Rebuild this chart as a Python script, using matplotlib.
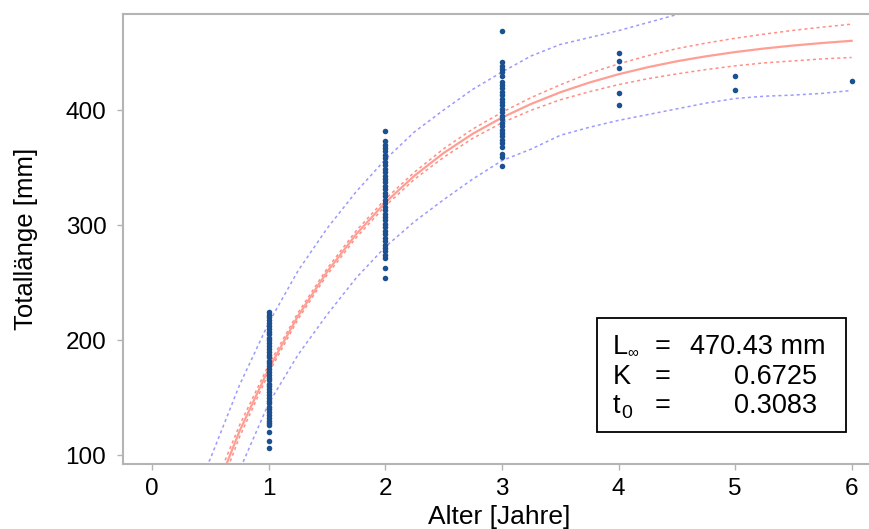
import matplotlib.pyplot as plt

# measured lengths per age class
age1 = [106, 112, 120, 126, 128, 130, 132, 135, 137, 140, 142, 145, 147, 150, 152, 155, 157, 160,
        162, 165, 167, 170, 172, 175, 177, 180, 182, 185, 187, 190, 192, 195, 197, 200, 202, 205,
        207, 210, 212, 215, 217, 220, 222, 224]
age2 = [254, 263, 271, 274, 277, 280, 283, 286, 289, 292, 295, 298, 301, 304, 307, 310, 313, 316,
        319, 322, 325, 328, 331, 334, 337, 340, 343, 346, 349, 352, 355, 358, 361, 364, 367, 370,
        373, 382]
age3 = [351, 359, 362, 368, 371, 374, 377, 380, 383, 386, 389, 392, 395, 398, 401, 404, 407, 410,
        413, 416, 419, 422, 424, 430, 433, 436, 438.5, 441.5, 469]
age4 = [404, 415, 436.5, 443, 450]
age5 = [417.4, 429.6]
age6 = [425]

# fitted curve and bands
t_grid = [0.4, 0.5, 0.75, 1.0, 1.25, 1.5, 1.75, 2.0, 2.25, 2.5, 2.75, 3.0, 3.25, 3.5, 3.75,
          4.0, 4.25, 4.5, 4.75, 5.0, 5.25, 5.5, 5.75, 6.0]
fit = [28.2, 56.9, 120.9, 175.0, 220.7, 259.3, 292.0, 319.6, 342.9, 362.6, 379.4, 393.4, 405.3,
       415.4, 423.9, 431.1, 437.2, 442.4, 446.7, 450.4, 453.5, 456.1, 458.3, 460.2]
ci_up = [36, 64.5, 126, 178.5, 223.5, 262, 295, 322.6, 346, 366.3, 383.5, 398, 410.8, 421.9, 431.9,
         440.1, 447.2, 453.4, 458.2, 462.4, 466, 469.3, 472.1, 474.7]
ci_lo = [20.4, 49.3, 115.8, 171.5, 217.9, 256.6, 289, 316.6, 339.8, 358.9, 375.4, 388.9, 399.8,
         408.9, 415.9, 422.1, 427.2, 431.4, 435.2, 438.4, 441, 442.7, 444.5, 445.7]
pi_up = [75, 97, 161, 215, 260, 297, 329, 357, 381, 400, 418, 433, 447, 457, 463,
         469, 476, 483, 488, 492, 495, 498, 500, 503]
pi_lo = [-5, 22, 87, 145, 187, 222, 254, 281, 303, 322, 340, 356, 366, 378, 385,
         391, 396, 401, 406, 410, 412, 413, 414.5, 417]

plt.rcParams['font.family'] = ['Liberation Sans', 'DejaVu Sans']

fig = plt.figure(figsize=(8.7, 5.29), dpi=100)
ax = fig.add_axes([123 / 870, 65 / 529, 752 / 870, 450 / 529])

ax.plot(t_grid, pi_up, color='#9a9aff', lw=1.1, ls=(0, (2, 2)))
ax.plot(t_grid, pi_lo, color='#9a9aff', lw=1.1, ls=(0, (2, 2)))
ax.plot(t_grid, ci_up, color='#ff8f86', lw=1.1, ls=(0, (2, 2)))
ax.plot(t_grid, ci_lo, color='#ff8f86', lw=1.1, ls=(0, (2, 2)))
ax.plot(t_grid, fit, color='#ff9f94', lw=1.6)

for age, vals in [(1, age1), (2, age2), (3, age3), (4, age4), (5, age5), (6, age6)]:
    ax.scatter([age] * len(vals), vals, s=16, color='#1b5190', zorder=3, linewidths=0)

ax.set_xlim(-0.25, 6.2)
ax.set_ylim(92.2, 483.5)
ax.set_xticks([0, 1, 2, 3, 4, 5, 6])
ax.set_yticks([100, 200, 300, 400])
for s in ax.spines.values():
    s.set_color('#b4b4b4')
    s.set_linewidth(1.5)
ax.tick_params(colors='#b4b4b4', labelcolor='black', labelsize=17.5, length=4, width=1)
ax.tick_params(axis='x', pad=6)
ax.tick_params(axis='y', pad=8)
ax.set_xlabel('Alter [Jahre]', fontsize=19, labelpad=4)
ax.set_ylabel('Totallänge [mm]', fontsize=18.5, labelpad=20)

# parameter box
box = plt.Rectangle((597 / 870, 1 - 432 / 529), 249 / 870, 114 / 529, transform=fig.transFigure,
                    fill=True, facecolor='white', edgecolor='black', lw=1.3, zorder=5)
fig.add_artist(box)
fs = 19.5
rows = [(347, 'L', '∞', '470.43 mm'), (377, 'K', '', '0.6725'), (406, 't', '0', '0.3083')]
for y, lab, sub, val in rows:
    yy = 1 - y / 529
    fig.text(613 / 870, yy, lab, fontsize=fs, va='center', ha='left', zorder=6)
    if sub == '∞':
        fig.text(627 / 870, yy - 5 / 529, sub, fontsize=11, va='center', ha='left', zorder=6)
    elif sub:
        fig.text(621 / 870, yy - 7 / 529, sub, fontsize=14, va='center', ha='left', zorder=6)
    fig.text(655 / 870, yy, '=', fontsize=fs, va='center', ha='left', zorder=6)
    xr = 826 if 'mm' in val else 817
    fig.text(xr / 870, yy, val, fontsize=fs, va='center', ha='right', zorder=6)

fig.savefig('out.png', dpi=100)
